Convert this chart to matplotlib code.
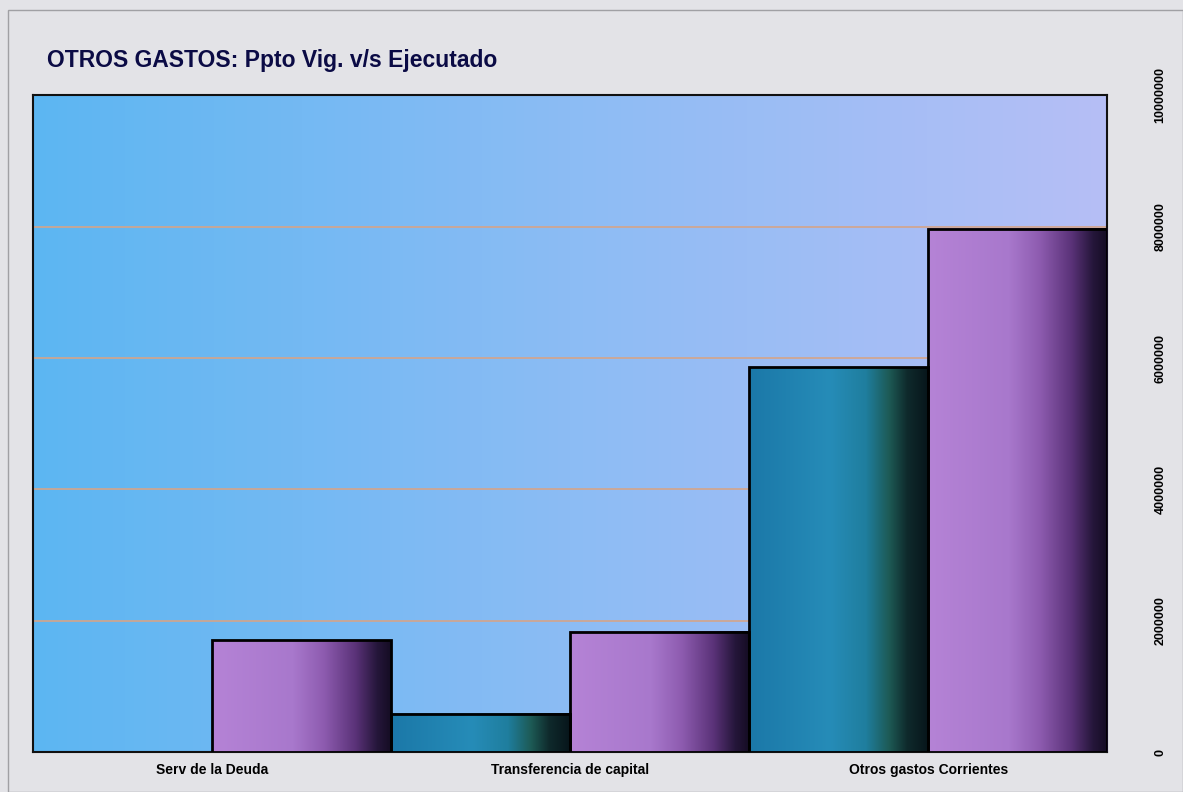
import numpy as np
import matplotlib.pyplot as plt
from matplotlib.colors import LinearSegmentedColormap
from matplotlib.patches import Rectangle

# datos
categorias = ['Serv de la Deuda', 'Transferencia de capital', 'Otros gastos Corrientes']
ppto_vigente = [0, 580000, 5860000]
ejecutado = [1700000, 1830000, 7970000]
ticks_y = [0, 2000000, 4000000, 6000000, 8000000, 10000000]

# degradados de las barras
cmap_teal = LinearSegmentedColormap.from_list('teal', [
    (0.0, '#1b78a8'), (0.45, '#268cb8'), (0.65, '#1f7e9e'),
    (0.78, '#1d5a55'), (0.88, '#0f2a2c'), (1.0, '#07141a')])
cmap_lila = LinearSegmentedColormap.from_list('lila', [
    (0.0, '#b583d6'), (0.45, '#a878cc'), (0.62, '#8e5cb0'),
    (0.8, '#5a3278'), (0.92, '#25163a'), (1.0, '#140c22')])
cmap_fondo = LinearSegmentedColormap.from_list('fondo', ['#5cb6f2', '#8cbcf4', '#b6bff6'])

fig = plt.figure(figsize=(11.83, 7.92), dpi=100, facecolor='#e3e3e7')
ax = fig.add_axes([0.028, 0.0505, 0.908, 0.829])

# marco exterior
fig.patches.append(Rectangle((0.007, 0.0), 0.993, 0.987, transform=fig.transFigure,
                             fill=False, edgecolor='#a0a0a4', linewidth=1))

# fondo del área de trazado
grad = np.linspace(0, 1, 256).reshape(1, -1)
ax.imshow(grad, extent=[0, 1, 0, 1], transform=ax.transAxes, aspect='auto',
          cmap=cmap_fondo, zorder=0)

x = np.arange(len(categorias))
ancho = 0.5

for serie, cmap, desp in [(ppto_vigente, cmap_teal, -0.25), (ejecutado, cmap_lila, 0.25)]:
    for xi, val in zip(x, serie):
        if val <= 0:
            continue
        x0 = xi + desp - ancho / 2
        ax.imshow(grad, extent=[x0, x0 + ancho, 0, val], aspect='auto', cmap=cmap, zorder=3)
        ax.add_patch(Rectangle((x0, 0), ancho, val, fill=False, edgecolor='black',
                               linewidth=2, zorder=4))

ax.set_xlim(-0.5, 2.5)
ax.set_ylim(0, 10000000)

# rejilla
for t in ticks_y[1:-1]:
    ax.axhline(t, color='#d4a48a', linewidth=1.2, zorder=1)

ax.set_xticks(x)
ax.set_xticklabels(categorias, fontsize=10, fontweight='bold', family='Liberation Sans')
ax.yaxis.tick_right()
ax.set_yticks(ticks_y)
ax.set_yticklabels([str(t) for t in ticks_y], rotation=90, fontsize=9,
                   fontweight='bold', family='Liberation Sans', va='center')
ax.tick_params(axis='both', length=0)
ax.tick_params(axis='y', pad=34)
ax.tick_params(axis='x', pad=8)

for s in ax.spines.values():
    s.set_linewidth(1.5)
    s.set_color('#111111')

fig.text(0.040, 0.924, 'OTROS GASTOS: Ppto Vig. v/s Ejecutado', fontsize=16.5,
         fontweight='bold', color='#0b0b45', family='Liberation Sans', va='center')

fig.savefig('out.png', dpi=100, facecolor=fig.get_facecolor())
